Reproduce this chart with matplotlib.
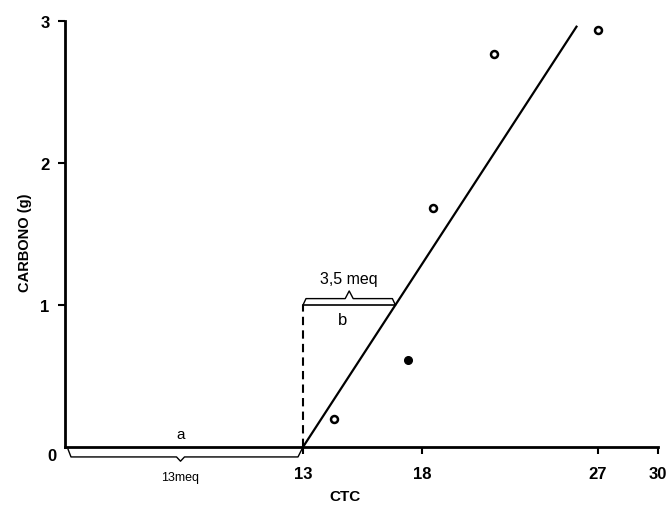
import numpy as np
import matplotlib
matplotlib.use("Agg")
import matplotlib.pyplot as plt

# ---- data ----
ctc_ticks = [13, 18, 27, 30]
ctc_tick_labels = ["13", "18", "27", "30"]
carbono_ticks = [1, 2, 3]
carbono_tick_labels = ["1", "2", "3"]

open_x = [14.3, 18.55, 21.7, 27.0]
open_y = [0.20, 1.68, 2.77, 2.94]
filled_x = [17.4]
filled_y = [0.61]

line_x = [13.0, 25.9]
line_y = [0.0, 2.96]

a_limit = 13.0       # 13 meq
b_level = 1.0

# hand-drawn (non-uniform) CTC axis of the original figure
scale_ctc = [0, 13, 18, 27, 30]
scale_pos = [0, 238, 357, 533, 593]


def fwd(x):
    return np.interp(x, scale_ctc, scale_pos)


def inv(p):
    return np.interp(p, scale_pos, scale_ctc)


plt.rcParams["font.family"] = ["Liberation Sans", "DejaVu Sans"]

W, H = 672, 506
fig = plt.figure(figsize=(W / 100, H / 100), dpi=100)
ax = fig.add_axes([65 / W, (H - 448) / H, 593 / W, 426 / H])
ax.set_xscale("function", functions=(fwd, inv))
ax.set_xlim(0, 30)
ax.set_ylim(0, 3)

for s in ["top", "right"]:
    ax.spines[s].set_visible(False)
for s in ["left", "bottom"]:
    ax.spines[s].set_linewidth(2.0)

ax.set_xticks(ctc_ticks)
ax.set_xticklabels(ctc_tick_labels, fontsize=12, fontweight="bold")
ax.set_yticks(carbono_ticks)
ax.set_yticklabels(carbono_tick_labels, fontsize=12, fontweight="bold")
ax.xaxis.set_minor_locator(matplotlib.ticker.NullLocator())
ax.tick_params(axis="x", direction="out", length=5, width=1.5, pad=9)
ax.tick_params(axis="y", direction="out", length=5, width=1.5, pad=6)

# regression line
ax.plot(line_x, line_y, color="black", lw=1.6, clip_on=False, zorder=3)

# points
ax.plot(open_x, open_y, "o", ms=5, mfc="white", mec="black", mew=1.8,
        clip_on=False, zorder=4)
ax.plot(filled_x, filled_y, "o", ms=5.5, mfc="black", mec="black",
        clip_on=False, zorder=4)

# dashed vertical at 13 up to level 1
ax.plot([a_limit, a_limit], [0, b_level], color="black", lw=1.5,
        ls=(0, (4, 2.5)), zorder=3)

# b bracket: from 13 to where the line reaches y=1
slope = (line_x[1] - line_x[0]) / (line_y[1] - line_y[0])
b_end_pos = fwd(line_x[0]) + (fwd(line_x[1]) - fwd(line_x[0])) * (b_level - line_y[0]) / (line_y[1] - line_y[0])
b_end = inv(b_end_pos)
ax.plot([a_limit, b_end], [b_level, b_level], color="black", lw=1.2, zorder=3)
# curly brace above
from matplotlib.transforms import blended_transform_factory
tr = ax.transData
x0p, x1p = fwd(a_limit), b_end_pos
mid = inv((x0p + x1p) / 2)
dy = 0.045
bx = [a_limit, inv(x0p + 3), inv((x0p + x1p) / 2 - 4), mid, inv((x0p + x1p) / 2 + 4), inv(x1p - 3), b_end]
by = [b_level, b_level + dy, b_level + dy, b_level + 2.2 * dy, b_level + dy, b_level + dy, b_level]
ax.plot(bx, by, color="black", lw=1.0, zorder=3)
ax.text(mid, b_level + 0.19, "3,5 meq", ha="center", va="center", fontsize=11.5)
ax.text(inv((x0p + x1p) / 2 - 7), b_level - 0.1, "b", ha="center", va="center", fontsize=12)

# a bracket below the axis (0 to 13)
dya = -0.07
ax0p, ax1p = fwd(0) + 3, fwd(a_limit)
amid = inv((ax0p + ax1p) / 2 - 5)
abx = [inv(ax0p), inv(ax0p + 3), inv((ax0p + ax1p) / 2 - 9), amid, inv((ax0p + ax1p) / 2 - 1), inv(ax1p - 5), a_limit]
aby = [-0.015, dya, dya, dya - 0.03, dya, dya, 0]
ax.plot(abx, aby, color="black", lw=1.0, clip_on=False, zorder=3)
ax.text(amid, 0.09, "a", ha="center", va="center", fontsize=11)
ax.text(amid, -0.21, "13meq", ha="center", va="center", fontsize=9)

# origin label
fig.text(52 / W, 1 - 457 / H, "0", ha="center", va="center", fontsize=12, fontweight="bold")

# axis labels
fig.text(345 / W, 1 - 497 / H, "CTC", ha="center", va="center", fontsize=11, fontweight="bold")
fig.text(25 / W, 1 - 243 / H, "CARBONO (g)", ha="center", va="center", rotation=90,
         fontsize=10.5, fontweight="bold")

fig.savefig("out.png", dpi=100)
